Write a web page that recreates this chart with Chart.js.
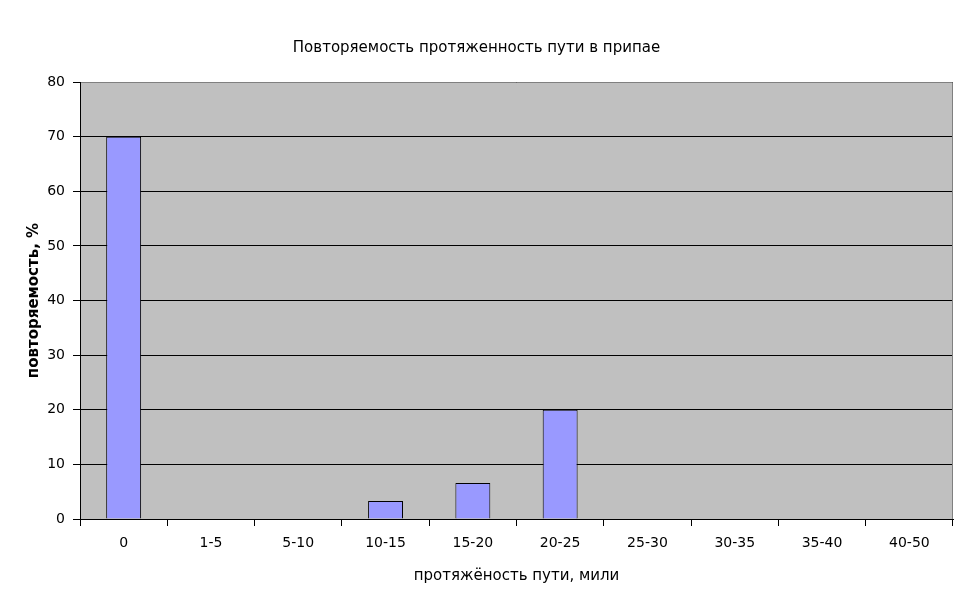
<!DOCTYPE html>
<html>
<head>
<meta charset="utf-8">
<script src="https://cdn.jsdelivr.net/npm/chart.js@4.4.1/dist/chart.umd.min.js"></script>
<style>
  html, body { margin: 0; padding: 0; background: #fff; }
  #wrap { width: 969px; height: 603px; }
</style>
</head>
<body>
<div id="wrap"><canvas id="chart"></canvas></div>
<script>
// categories and values
const categories = ["0", "1-5", "5-10", "10-15", "15-20", "20-25", "25-30", "30-35", "35-40", "40-50"];
const values = [70, 0, 0, 3.3, 6.6, 20, 0, 0, 0, 0];
const yTicks = [0, 10, 20, 30, 40, 50, 60, 70, 80];

const FONT = "'DejaVu Sans', 'Liberation Sans', Arial, sans-serif";

// grey plot area like the old office charts
const plotBg = {
  id: "plotBg",
  beforeDraw(chart) {
    const { ctx, chartArea: a } = chart;
    ctx.save();
    ctx.fillStyle = "#C0C0C0";
    ctx.fillRect(a.left, a.top, a.right - a.left, a.bottom - a.top);
    ctx.restore();
  },
  afterDraw(chart) {
    // grey frame on top and right, axes stay black
    const { ctx, chartArea: a } = chart;
    ctx.save();
    ctx.strokeStyle = "#808080";
    ctx.lineWidth = 1;
    ctx.beginPath();
    ctx.moveTo(a.left + 1, Math.round(a.top) + 0.5);
    ctx.lineTo(Math.round(a.right) - 0.5, Math.round(a.top) + 0.5);
    ctx.lineTo(Math.round(a.right) - 0.5, a.bottom);
    ctx.stroke();
    ctx.restore();
  }
};

new Chart(document.getElementById("chart").getContext("2d"), {
  type: "bar",
  data: {
    labels: categories,
    datasets: [{
      data: values,
      backgroundColor: "#9999FF",
      borderColor: "#000000",
      borderWidth: 1,
      barPercentage: 0.4,
      categoryPercentage: 1.0
    }]
  },
  options: {
    responsive: true,
    maintainAspectRatio: false,
    animation: false,
    layout: { padding: { left: 0, right: 16, top: 0, bottom: 0 } },
    plugins: {
      legend: { display: false },
      tooltip: { enabled: false },
      title: {
        display: true,
        text: "Повторяемость протяженность пути в припае",
        color: "#000",
        font: { family: FONT, size: 15, weight: "normal" },
        padding: { top: 39, bottom: 25 }
      }
    },
    scales: {
      x: {
        grid: {
          offset: true,
          drawOnChartArea: false,
          drawTicks: true,
          tickLength: 7,
          color: "#000"
        },
        border: { color: "#000", width: 1 },
        ticks: {
          color: "#000",
          font: { family: FONT, size: 14 },
          padding: 9,
          maxRotation: 0,
          autoSkip: false
        },
        title: {
          display: true,
          text: "протяжёность пути, мили",
          color: "#000",
          font: { family: FONT, size: 15 },
          padding: { top: 10, bottom: 18 }
        },
        afterFit(scale) { scale.height = 84; }
      },
      y: {
        min: 0,
        max: 80,
        afterBuildTicks(scale) { scale.ticks = yTicks.map(v => ({ value: v })); },
        grid: {
          color: "#000",
          tickLength: 7,
          drawTicks: true
        },
        border: { color: "#000", width: 1 },
        ticks: {
          color: "#000",
          font: { family: FONT, size: 14 },
          padding: 8
        },
        title: {
          display: true,
          text: "повторяемость, %",
          color: "#000",
          font: { family: FONT, size: 15, weight: "bold" },
          padding: { top: 25, bottom: 4 }
        },
        afterFit(scale) { scale.width = 80; }
      }
    }
  },
  plugins: [plotBg]
});
</script>
</body>
</html>
